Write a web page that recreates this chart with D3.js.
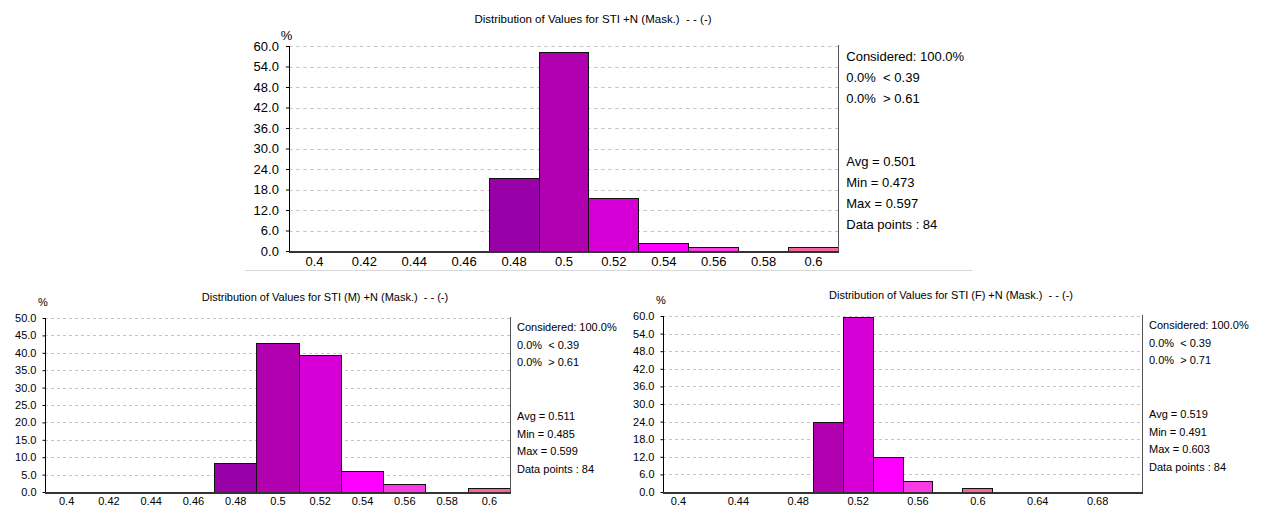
<!DOCTYPE html>
<html>
<head>
<meta charset="utf-8">
<script src="https://cdn.jsdelivr.net/npm/d3@7"></script>
<style>
  html, body { margin: 0; padding: 0; background: #fff; }
  svg { display: block; }
  text { font-family: "Liberation Sans", Arial, sans-serif; fill: #000; white-space: pre; }
</style>
</head>
<body>
<svg id="chart" width="1262" height="509"></svg>
<script>
// bin centres (width 0.02) and % of data points per bin
const stiBins = [0.40, 0.42, 0.44, 0.46, 0.48, 0.50, 0.52, 0.54, 0.56, 0.58, 0.60];
const stiPct = [0, 0, 0, 0, 21.4, 58.3, 15.5, 2.4, 1.2, 0, 1.2];
const stiXTicks = [0.40, 0.42, 0.44, 0.46, 0.48, 0.50, 0.52, 0.54, 0.56, 0.58, 0.60];
const stiYTicks = [0, 6, 12, 18, 24, 30, 36, 42, 48, 54, 60];
const stiHead = ["Considered: 100.0%", "0.0%  < 0.39", "0.0%  > 0.61"];
const stiStats = ["Avg = 0.501", "Min = 0.473", "Max = 0.597", "Data points : 84"];

const maleBins = [0.40, 0.42, 0.44, 0.46, 0.48, 0.50, 0.52, 0.54, 0.56, 0.58, 0.60];
const malePct = [0, 0, 0, 0, 8.3, 42.9, 39.3, 6.0, 2.4, 0, 1.2];
const maleXTicks = [0.40, 0.42, 0.44, 0.46, 0.48, 0.50, 0.52, 0.54, 0.56, 0.58, 0.60];
const maleYTicks = [0, 5, 10, 15, 20, 25, 30, 35, 40, 45, 50];
const maleHead = ["Considered: 100.0%", "0.0%  < 0.39", "0.0%  > 0.61"];
const maleStats = ["Avg = 0.511", "Min = 0.485", "Max = 0.599", "Data points : 84"];

const femBins = [0.40, 0.42, 0.44, 0.46, 0.48, 0.50, 0.52, 0.54, 0.56, 0.58, 0.60, 0.62, 0.64, 0.66, 0.68, 0.70];
const femPct = [0, 0, 0, 0, 0, 23.8, 59.5, 11.9, 3.6, 0, 1.2, 0, 0, 0, 0, 0];
const femXTicks = [0.40, 0.44, 0.48, 0.52, 0.56, 0.60, 0.64, 0.68];
const femYTicks = [0, 6, 12, 18, 24, 30, 36, 42, 48, 54, 60];
const femHead = ["Considered: 100.0%", "0.0%  < 0.39", "0.0%  > 0.71"];
const femStats = ["Avg = 0.519", "Min = 0.491", "Max = 0.603", "Data points : 84"];

// bar colour depends on the value range of the bin
const binColor = d3.scaleOrdinal()
    .domain(["0.48", "0.5", "0.52", "0.54", "0.56", "0.58", "0.6"])
    .range(["#9800a8", "#b000b0", "#d600d6", "#ff00ff", "#fa3ae4", "#f64ec0", "#f4649e"]);

const svg = d3.select('#chart');
const fmtX = d3.format('~g');
const fmtY = d3.format('.1f');

function drawHist(c) {
    const step = c.bins[1] - c.bins[0];
    const x = d3.scaleLinear()
        .domain([c.bins[0] - step / 2, c.bins[c.bins.length - 1] + step / 2])
        .range([c.left, c.right]);
    const y = d3.scaleLinear()
        .domain([0, c.yTicks[c.yTicks.length - 1]])
        .range([c.bottom, c.top]);
    const s = c.fs / 11;
    const g = svg.append('g');

    // dashed grid
    g.selectAll('.grid')
        .data(c.yTicks.slice(1))
        .enter()
        .append('line')
        .attr('x1', c.left)
        .attr('x2', c.right)
        .attr('y1', d => Math.round(y(d)) + 0.5)
        .attr('y2', d => Math.round(y(d)) + 0.5)
        .attr('stroke', '#c4c4c4')
        .attr('stroke-dasharray', `${3 * s},${3 * s}`);

    // bars
    const data = c.bins.map((b, i) => ({ b, v: c.pct[i] })).filter(d => d.v > 0);
    g.selectAll('.bar')
        .data(data)
        .enter()
        .append('rect')
        .attr('x', d => Math.round(x(d.b - step / 2)) + 0.5)
        .attr('y', d => Math.round(y(d.v)) + 0.5)
        .attr('width', d => Math.round(x(d.b + step / 2)) - Math.round(x(d.b - step / 2)))
        .attr('height', d => Math.round(y(0)) - Math.round(y(d.v)))
        .attr('fill', d => binColor(fmtX(d.b)))
        .attr('stroke', '#111')
        .attr('stroke-width', 1);

    // axes frame
    const yAxis = d3.axisLeft(y)
        .tickValues(c.yTicks)
        .tickFormat(fmtY)
        .tickSize(3 * s)
        .tickPadding(6 * s);
    const ya = g.append('g')
        .attr('transform', `translate(${Math.round(c.left) + 0.5},0)`)
        .call(yAxis);
    ya.select('.domain').remove();
    ya.selectAll('line').attr('stroke', '#000');
    ya.selectAll('text').attr('font-size', c.fs + 'px').attr('font-family', null);

    g.append('line')
        .attr('x1', Math.round(c.left) + 0.5).attr('x2', Math.round(c.left) + 0.5)
        .attr('y1', c.top).attr('y2', c.bottom)
        .attr('stroke', '#000');
    g.append('line')
        .attr('x1', Math.round(c.right) + 0.5).attr('x2', Math.round(c.right) + 0.5)
        .attr('y1', c.top - 1).attr('y2', c.bottom)
        .attr('stroke', '#555');
    g.append('line')
        .attr('x1', c.left).attr('x2', c.right + 1)
        .attr('y1', Math.round(c.bottom) + 1).attr('y2', Math.round(c.bottom) + 1)
        .attr('stroke', '#333')
        .attr('stroke-width', 2);

    const xAxis = d3.axisBottom(x)
        .tickValues(c.xTicks)
        .tickFormat(fmtX)
        .tickSize(0)
        .tickPadding(4 * s);
    const xa = g.append('g')
        .attr('transform', `translate(0,${Math.round(c.bottom) + 1})`)
        .call(xAxis);
    xa.select('.domain').remove();
    xa.selectAll('text').attr('font-size', c.fs + 'px').attr('font-family', null);

    // title and unit
    g.append('text')
        .attr('x', c.titleX).attr('y', c.titleY)
        .attr('text-anchor', 'middle')
        .attr('dy', '0.35em')
        .attr('font-size', c.titleFs + 'px')
        .text(c.title);
    g.append('text')
        .attr('x', c.left - 2 * s).attr('y', c.pctY)
        .attr('text-anchor', 'middle')
        .attr('dy', '0.35em')
        .attr('font-size', c.fs + 'px')
        .text('%');

    // side panel
    const lh = 17.8 * s;
    g.selectAll('.head')
        .data(c.head)
        .enter()
        .append('text')
        .attr('x', c.right + 7 * s)
        .attr('y', (d, i) => c.top + 9 * s + i * lh)
        .attr('dy', '0.35em')
        .attr('font-size', c.fs + 'px')
        .text(d => d);
    g.selectAll('.stat')
        .data(c.stats)
        .enter()
        .append('text')
        .attr('x', c.right + 7 * s)
        .attr('y', (d, i) => c.top + 9 * s + (i + 5) * lh)
        .attr('dy', '0.35em')
        .attr('font-size', c.fs + 'px')
        .text(d => d);
}

drawHist({
    bins: stiBins, pct: stiPct, xTicks: stiXTicks, yTicks: stiYTicks,
    head: stiHead, stats: stiStats,
    title: 'Distribution of Values for STI +N (Mask.)  - - (-)',
    left: 289, right: 838, top: 46, bottom: 251,
    titleX: 593, titleY: 19, titleFs: 11.5, pctY: 35, fs: 13
});

// thin separator under the upper chart
svg.append('line')
    .attr('x1', 245).attr('x2', 972)
    .attr('y1', 270.5).attr('y2', 270.5)
    .attr('stroke', '#d8d8d8');

drawHist({
    bins: maleBins, pct: malePct, xTicks: maleXTicks, yTicks: maleYTicks,
    head: maleHead, stats: maleStats,
    title: 'Distribution of Values for STI (M) +N (Mask.)  - - (-)',
    left: 45, right: 510, top: 318, bottom: 492,
    titleX: 325, titleY: 297, titleFs: 11, pctY: 302, fs: 11
});

drawHist({
    bins: femBins, pct: femPct, xTicks: femXTicks, yTicks: femYTicks,
    head: femHead, stats: femStats,
    title: 'Distribution of Values for STI (F) +N (Mask.)  - - (-)',
    left: 663, right: 1142, top: 316, bottom: 492,
    titleX: 951, titleY: 295, titleFs: 11, pctY: 300, fs: 11
});
</script>
</body>
</html>
